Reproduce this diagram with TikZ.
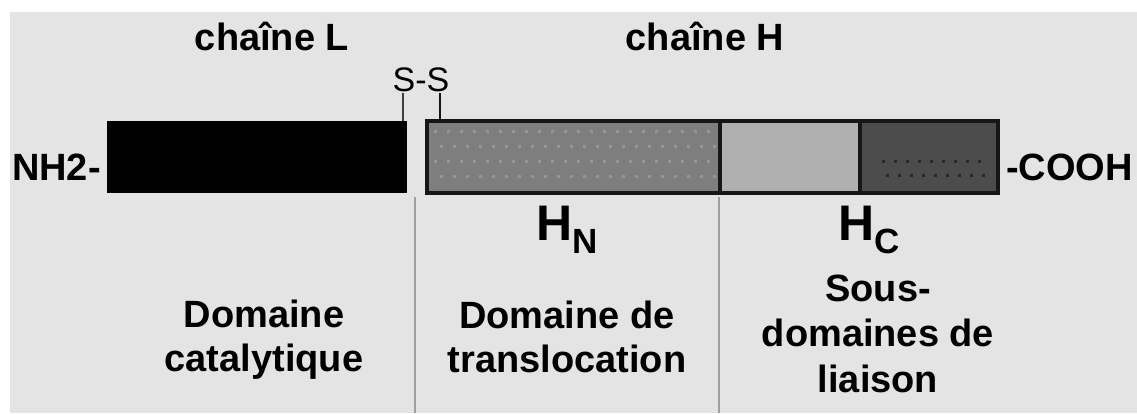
\documentclass[tikz,border=0pt]{standalone}
\usepackage{fontspec}
\setmainfont{Liberation Sans}
\definecolor{panel}{RGB}{228,228,228}
\definecolor{hnfill}{RGB}{126,126,126}
\definecolor{hndot}{RGB}{150,150,150}
\definecolor{hcone}{RGB}{176,176,176}
\definecolor{hctwo}{RGB}{76,76,76}
\definecolor{hctwodot}{RGB}{40,40,40}
\definecolor{edge}{RGB}{22,22,22}
\definecolor{sep}{RGB}{160,160,160}
\begin{document}
\begin{tikzpicture}[x=1pt,y=-1pt,
  seg/.style={inner sep=0pt, outer sep=0pt, anchor=north west, minimum height=72pt},
  lbl/.style={font=\bfseries\fontsize{38}{44}\selectfont, inner sep=0pt, anchor=base, align=center},
  endlbl/.style={font=\bfseries\fontsize{38}{44}\selectfont, inner sep=0pt},
  sslbl/.style={font=\fontsize{34}{34}\selectfont, inner sep=0pt, anchor=base},
  hlbl/.style={font=\bfseries\fontsize{50}{50}\selectfont, inner sep=0pt, anchor=base west},
  bond/.style={line width=2.5pt, edge},
  divider/.style={line width=1.5pt, sep}]

% canvas and grey panel
\useasboundingbox (0,0) rectangle (1137,413);
\fill[white] (0,0) rectangle (1137,413);
\fill[panel] (10,12) rectangle (1137,413);

% light chain
\node[seg, fill=black, minimum width=300pt] (L) at (107,121) {};

% heavy chain segments
\node[seg, fill=hnfill, minimum width=293pt] (HN) at (427,121) {};
\node[seg, fill=hcone, minimum width=140pt] (HC1) at (720,121) {};
\node[seg, fill=hctwo, minimum width=138pt] (HC2) at (860,121) {};

% stipple on the translocation segment
\foreach \i in {0,...,21}
  \foreach \j in {0,...,3}
    \fill[hndot] ({434+\i*13+mod(\j,2)*6},{130+\j*15}) rectangle ++(2.5,2.5);
% stipple on the last segment
\foreach \i in {0,...,8}
  \foreach \j in {0,1}
    \fill[hctwodot] ({882+\i*12+\j*4},{160+\j*14}) rectangle ++(2.5,2.5);

% heavy chain outline and dividers
\draw[edge, line width=4pt] (HN.north west) rectangle (HC2.south east);
\draw[edge, line width=3.5pt] (HN.north east) -- (HN.south east);
\draw[edge, line width=3.5pt] (HC1.north east) -- (HC1.south east);

% disulfide bridge
\coordinate (sa) at (403,121);
\coordinate (sb) at (440,121);
\node[sslbl] (ss) at (421,91) {S-S};
\draw[bond, draw=black!75] (sa) -- ++(0,-28);
\draw[bond, line width=2pt] (sb) -- ++(0,-28);

% chain ends
\node[endlbl, anchor=base east] (nterm) at (101,180) {NH2-};
\node[endlbl, anchor=base west] (cterm) at (1006,180) {-COOH};

% chain names
\node[lbl] (chL) at (272,50) {chaîne L};
\node[lbl] (chH) at (705,50) {chaîne H};

% domain dividers
\coordinate (d1) at (415,197);
\coordinate (d2) at (719,197);
\draw[divider] (d1) -- ++(0,216);
\draw[divider] (d2) -- ++(0,216);

% domain symbols
\node[hlbl] (hn) at (536,240) {H\raisebox{-13pt}{\fontsize{35}{35}\selectfont N}};
\node[hlbl] (hc) at (838,240) {H\raisebox{-13pt}{\fontsize{35}{35}\selectfont C}};

% domain names (base anchor sits on the last line)
\node[lbl] (dcat) at (264,371) {Domaine\\catalytique};
\node[lbl] (dtra) at (567,372) {Domaine de\\translocation};
\node[lbl, font=\bfseries\fontsize{38}{45.5}\selectfont] (dlia) at (878,392) {Sous-\\domaines de\\liaison};
\end{tikzpicture}
\end{document}
